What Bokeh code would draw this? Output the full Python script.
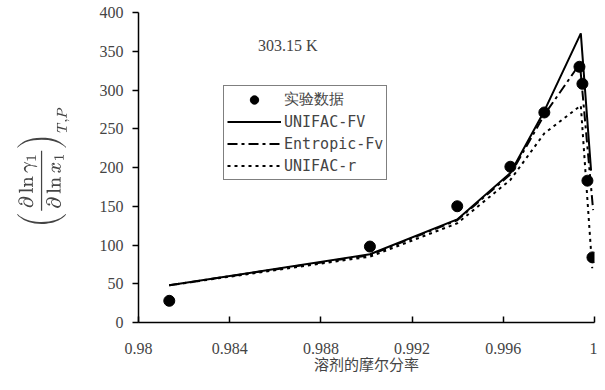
from bokeh.plotting import figure
from bokeh.models import FixedTicker, Legend, LegendItem, Label, Range1d
from bokeh.embed import file_html
from bokeh.resources import INLINE

# ---- data ----
x_exp = [0.98135, 0.99015, 0.99398, 0.99631, 0.99780, 0.99934, 0.99947, 0.99969, 0.99991]
y_exp = [28, 98, 150, 201, 271, 330, 308, 183, 84]

x_model = [0.98135, 0.99015, 0.99398, 0.99631, 0.99780, 0.99940, 0.99985]
y_unifac_fv = [48, 88, 133, 193, 273, 373, 196]
x_entropic = [0.98135, 0.99015, 0.99398, 0.99631, 0.99780, 0.99936, 0.99994]
y_entropic = [48, 87, 132, 191, 268, 334, 145]
x_unifac_r = [0.98135, 0.99015, 0.99398, 0.99631, 0.99780, 0.99940, 0.99990]
y_unifac_r = [48, 85, 128, 184, 244, 280, 70]

x_ticks = [0.98, 0.984, 0.988, 0.992, 0.996, 1.0]
x_tick_labels = ["0.98", "0.984", "0.988", "0.992", "0.996", "1"]
y_ticks = [0, 50, 100, 150, 200, 250, 300, 350, 400]

series_names = ["实验数据", "UNIFAC-FV", "Entropic-Fv", "UNIFAC-r"]
x_title = "溶剂的摩尔分率"
y_title = r"$$\left(\frac{\partial \ln \gamma_1}{\partial \ln x_1}\right)_{T,P}$$"
temp_text = "303.15 K"

SERIF = "Liberation Serif"
CJK = "Noto Sans CJK SC"

p = figure(width=597, height=382, output_backend="svg", toolbar_location=None,
           x_range=Range1d(0.98, 1.0), y_range=Range1d(0, 400),
           min_border_left=138, min_border_right=3, min_border_top=12, min_border_bottom=60)
p.outline_line_color = None
p.xgrid.visible = False
p.ygrid.visible = False
p.background_fill_color = "white"
p.border_fill_color = "white"

# axes
xa = p.xaxis[0]
xa.ticker = FixedTicker(ticks=x_ticks)
xa.major_label_overrides = {t: l for t, l in zip(x_ticks, x_tick_labels)}
xa.major_tick_in = 6
xa.major_tick_out = 0
xa.minor_tick_line_color = None
xa.axis_line_width = 1.5
xa.major_tick_line_width = 1.5
xa.major_label_standoff = 20
xa.major_label_text_font = SERIF
xa.major_label_text_font_size = "16px"
xa.axis_label = x_title
xa.axis_label_text_font = CJK
xa.axis_label_text_font_style = "normal"
xa.axis_label_text_font_size = "15px"
xa.axis_label_standoff = -4

ya = p.yaxis[0]
ya.ticker = FixedTicker(ticks=y_ticks)
ya.major_tick_in = 0
ya.major_tick_out = 6
ya.minor_tick_line_color = None
ya.axis_line_width = 1.5
ya.major_tick_line_width = 1.5
ya.major_label_standoff = 9
ya.major_label_text_font = SERIF
ya.major_label_text_font_size = "16px"
ya.axis_label = y_title
ya.axis_label_text_font_size = "16px"
ya.axis_label_standoff = 27

# glyphs
r_exp = p.scatter(x_exp, y_exp, size=11, marker="circle", color="black")
r_fv = p.line(x_model, y_unifac_fv, line_color="black", line_width=2)
r_en = p.line(x_entropic, y_entropic, line_color="black", line_width=2, line_dash="10 4 3 4")
r_r = p.line(x_unifac_r, y_unifac_r, line_color="black", line_width=2, line_dash="3 4")

legend = Legend(items=[
    LegendItem(label=series_names[0], renderers=[r_exp]),
    LegendItem(label=series_names[1], renderers=[r_fv]),
    LegendItem(label=series_names[2], renderers=[r_en]),
    LegendItem(label=series_names[3], renderers=[r_r]),
], location=(85, 142))
legend.border_line_color = "black"
legend.border_line_width = 1.5
legend.background_fill_color = "white"
legend.background_fill_alpha = 1
legend.padding = 3
legend.spacing = 1
legend.margin = 0
legend.glyph_width = 54
legend.glyph_height = 21
legend.label_height = 21
legend.label_standoff = 3
legend.label_text_font = "DejaVu Sans Mono"
legend.label_text_font_size = "15px"
p.add_layout(legend, "center")

p.add_layout(Label(x=0.98655, y=357, text=temp_text, text_align="center",
                   text_baseline="middle", text_font=SERIF, text_font_size="16px"))

open("out.html", "w").write(file_html(p, INLINE))
